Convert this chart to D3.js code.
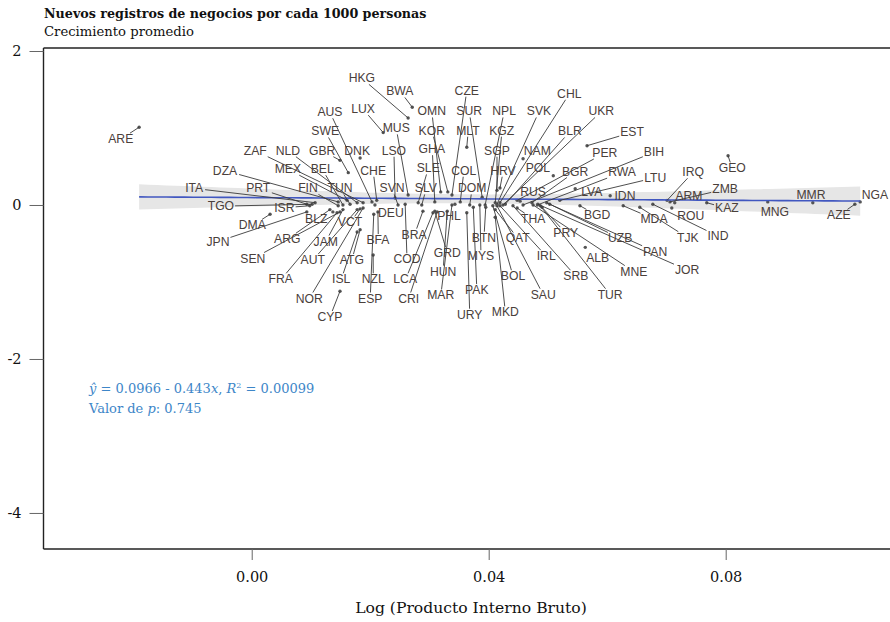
<!DOCTYPE html>
<html><head><meta charset="utf-8">
<script src="https://cdn.jsdelivr.net/npm/d3@7"></script>
<style>body{margin:0;background:#fff}svg{display:block}</style>
</head><body>
<svg id="c" width="890" height="622"></svg>
<script>
const paises = ["ARE","ITA","TGO","PRT","ISR","DZA","ZAF","NLD","MEX","BEL","FIN","TUN","GBR","DNK","SWE","AUS","CHE","HKG","BWA","LUX","MUS","LSO","SVN","OMN","KOR","GHA","SLE","SLV","CZE","SUR","MLT","COL","DOM","NPL","KGZ","SGP","HRV","SVK","CHL","NAM","UKR","BLR","EST","PER","BIH","POL","BGR","RWA","LTU","LVA","RUS","IDN","IRQ","ZMB","ARM","GEO","KAZ","MNG","MMR","AZE","NGA","ROU","IND","TJK","MDA","BGD","UZB","PAN","JOR","MNE","TUR","ALB","SRB","PRY","THA","IRL","SAU","BOL","QAT","MKD","BTN","MYS","PAK","URY","MAR","HUN","GRD","PHL","BRA","COD","LCA","CRI","DEU","BFA","NZL","ESP","ISL","CYP","ATG","AUT","NOR","JAM","FRA","VCT","BLZ","ARG","SEN","JPN","DMA"];
const logPib = [-0.0190,0.0107,0.0102,0.0093,0.0098,0.0146,0.0188,0.0178,0.0161,0.0154,0.0146,0.0166,0.0149,0.0183,0.0163,0.0203,0.0211,0.0264,0.0271,0.0222,0.0264,0.0242,0.0247,0.0319,0.0331,0.0309,0.0281,0.0287,0.0338,0.0389,0.0363,0.0352,0.0368,0.0394,0.0411,0.0414,0.0419,0.0414,0.0419,0.0458,0.0424,0.0428,0.0566,0.0448,0.0458,0.0509,0.0473,0.0482,0.0520,0.0546,0.0453,0.0605,0.0701,0.0706,0.0714,0.0804,0.0768,0.0871,0.0947,0.1018,0.1027,0.0709,0.0677,0.0655,0.0627,0.0554,0.0498,0.0503,0.0483,0.0475,0.0487,0.0563,0.0441,0.0490,0.0448,0.0419,0.0414,0.0407,0.0411,0.0411,0.0395,0.0385,0.0374,0.0363,0.0338,0.0330,0.0309,0.0343,0.0289,0.0259,0.0306,0.0313,0.0208,0.0213,0.0205,0.0206,0.0178,0.0149,0.0183,0.0178,0.0188,0.0154,0.0144,0.0183,0.0137,0.0132,0.0149,0.0093,0.0031];
const crecimiento = [1.01,0.03,0.01,0.01,-0.01,0.04,0.03,0.03,0.06,0.00,-0.01,0.01,0.58,0.61,0.42,0.04,0.06,1.13,1.27,0.94,0.13,0.09,0.00,0.17,0.17,0.04,0.03,0.00,0.13,0.10,0.75,0.04,0.00,0.00,0.03,0.19,0.22,0.01,0.03,0.60,0.00,0.01,0.77,0.06,0.00,0.38,0.03,0.00,0.06,0.21,0.05,0.12,0.06,0.04,0.03,0.64,0.03,0.04,0.03,0.01,0.04,-0.04,0.01,-0.03,-0.01,-0.01,0.03,0.01,0.01,0.00,-0.01,-0.55,-0.01,-0.03,-0.04,-0.01,-0.01,-0.01,-0.06,-0.16,-0.03,0.00,-0.03,-0.10,0.00,-0.08,-0.08,0.01,-0.08,0.01,-0.10,-0.09,0.00,-0.09,-0.65,-0.12,-0.35,-1.12,-0.32,-0.06,-0.04,-0.06,-0.10,-0.05,-0.09,-0.06,-0.09,-0.09,-0.12];
// label anchor positions (data units), as placed by the repel layout in the original
const etiquetaX = [-0.0221,-0.0097,-0.0052,0.0011,0.0055,-0.0045,0.0006,0.0061,0.0061,0.0119,0.0095,0.0149,0.0119,0.0178,0.0124,0.0132,0.0205,0.0186,0.0250,0.0188,0.0244,0.0240,0.0237,0.0304,0.0304,0.0304,0.0298,0.0294,0.0363,0.0367,0.0365,0.0358,0.0372,0.0426,0.0422,0.0414,0.0424,0.0485,0.0536,0.0482,0.0590,0.0537,0.0642,0.0596,0.0679,0.0483,0.0546,0.0625,0.0681,0.0574,0.0475,0.0630,0.0745,0.0799,0.0738,0.0811,0.0802,0.0883,0.0944,0.0991,0.1052,0.0741,0.0787,0.0736,0.0679,0.0583,0.0622,0.0681,0.0735,0.0645,0.0605,0.0584,0.0547,0.0530,0.0475,0.0497,0.0492,0.0441,0.0449,0.0428,0.0392,0.0387,0.0380,0.0368,0.0319,0.0323,0.0330,0.0333,0.0274,0.0262,0.0259,0.0265,0.0235,0.0213,0.0205,0.0200,0.0151,0.0132,0.0169,0.0103,0.0097,0.0125,0.0049,0.0166,0.0109,0.0060,0.0002,-0.0057,0.0001];
const etiquetaY = [0.86,0.22,-0.01,0.22,-0.03,0.45,0.71,0.71,0.47,0.47,0.22,0.22,0.71,0.70,0.96,1.21,0.45,1.65,1.48,1.25,1.00,0.71,0.22,1.22,0.97,0.73,0.48,0.22,1.49,1.22,0.97,0.45,0.22,1.22,0.97,0.71,0.45,1.22,1.45,0.71,1.22,0.96,0.95,0.68,0.69,0.48,0.44,0.43,0.36,0.18,0.18,0.12,0.43,0.21,0.12,0.48,-0.04,-0.09,0.14,-0.13,0.13,-0.14,-0.40,-0.42,-0.18,-0.13,-0.43,-0.60,-0.84,-0.86,-1.16,-0.68,-0.92,-0.36,-0.18,-0.66,-1.16,-0.92,-0.43,-1.39,-0.42,-0.66,-1.10,-1.42,-1.17,-0.86,-0.62,-0.14,-0.38,-0.70,-0.96,-1.21,-0.10,-0.45,-0.96,-1.21,-0.96,-1.45,-0.71,-0.71,-1.21,-0.47,-0.96,-0.22,-0.18,-0.44,-0.69,-0.47,-0.26];
const xTicks = [0.00, 0.04, 0.08];
const yTicks = [2, 0, -2, -4];
const intercepto = 0.0966, pendiente = -0.443;
const titulo = "Nuevos registros de negocios por cada 1000 personas";
const subtitulo = "Crecimiento promedio";
const ejeX = "Log (Producto Interno Bruto)";

const svg = d3.select("#c");
const L = 43.5, R = 890, T = 48, B = 549;
const x = d3.scaleLinear().domain([-0.03514, 0.10773]).range([L, R]);
const y = d3.scaleLinear().domain([-4.468, 2.039]).range([B, T]);
const serif = "'DejaVu Serif', serif";
const sans = "'Liberation Sans', Arial, sans-serif";

svg.append("text").attr("x", 44).attr("y", 18).attr("font-family", serif).attr("font-weight", "bold")
  .attr("font-size", 12.7).attr("fill", "#111").text(titulo);
svg.append("text").attr("x", 44).attr("y", 36).attr("font-family", serif)
  .attr("font-size", 13.2).attr("fill", "#111").text(subtitulo);

// confidence band from data
const n = logPib.length;
const xm = d3.mean(logPib);
const sxx = d3.sum(logPib, v => (v - xm) ** 2);
const res = logPib.map((v, i) => crecimiento[i] - (intercepto + pendiente * v));
const s = Math.sqrt(d3.sum(res, r => r * r) / (n - 2));
const tq = 1.983;
const [xmin, xmax] = d3.extent(logPib);
const grid = d3.range(0, 81).map(k => xmin + (xmax - xmin) * k / 80);
const band = grid.map(v => {
  const f = intercepto + pendiente * v;
  const se = s * Math.sqrt(1 / n + (v - xm) ** 2 / sxx);
  return {v, lo: f - tq * se, hi: f + tq * se, f};
});
svg.append("path").datum(band).attr("fill", "#e6e6e6")
  .attr("d", d3.area().x(d => x(d.v)).y0(d => y(d.lo)).y1(d => y(d.hi)));

// points
const g = svg.append("g");
g.selectAll("circle").data(paises).join("circle")
  .attr("cx", (d, i) => x(logPib[i])).attr("cy", (d, i) => y(crecimiento[i]))
  .attr("r", 1.7).attr("fill", "#555");

svg.append("path").datum(band).attr("fill", "none").attr("stroke", "#4157c0").attr("stroke-width", 1.6)
  .attr("d", d3.line().x(d => x(d.v)).y(d => y(d.f)));

// labels + segments
const segG = svg.append("g");
const labG = svg.append("g");
paises.forEach((p, i) => {
  const lx = x(etiquetaX[i]), ly = y(etiquetaY[i]);
  const t = labG.append("text").attr("x", lx).attr("y", ly).attr("dy", "0.36em")
    .attr("text-anchor", "middle").attr("font-family", sans).attr("font-size", 12.2)
    .attr("fill", "#4a403b").text(p);
  const bb = t.node().getBBox();
  const x0 = bb.x - 1, x1 = bb.x + bb.width + 1, y0 = bb.y + 1, y1 = bb.y + bb.height - 1;
  const px = x(logPib[i]), py = y(crecimiento[i]);
  if (px >= x0 && px <= x1 && py >= y0 && py <= y1) return;
  const cx = (x0 + x1) / 2, cy = (y0 + y1) / 2;
  const dx = px - cx, dy = py - cy;
  let tt = 1;
  if (dx !== 0) tt = Math.min(tt, Math.abs(((dx > 0 ? x1 : x0) - cx) / dx));
  if (dy !== 0) tt = Math.min(tt, Math.abs(((dy > 0 ? y1 : y0) - cy) / dy));
  const ex = cx + dx * tt, ey = cy + dy * tt;
  const len = Math.hypot(px - ex, py - ey);
  if (len < 7) return;
  segG.append("line").attr("x1", ex).attr("y1", ey).attr("x2", px).attr("y2", py)
    .attr("stroke", "#3a3a3a").attr("stroke-width", 0.9);
});

// axes
const ax = svg.append("g").attr("stroke", "#222").attr("stroke-width", 1.4).attr("fill", "none");
ax.append("line").attr("x1", L).attr("x2", L).attr("y1", T).attr("y2", B);
ax.append("line").attr("x1", L).attr("x2", R).attr("y1", T).attr("y2", T);
ax.append("line").attr("x1", L).attr("x2", R).attr("y1", B).attr("y2", B);

const yAx = svg.append("g").attr("transform", `translate(${L},0)`)
  .call(d3.axisLeft(y).tickValues(yTicks).tickSize(14).tickPadding(8).tickFormat(d => String(d)));
yAx.select(".domain").remove();
yAx.selectAll(".tick line").attr("stroke", "#666");
yAx.selectAll(".tick text").attr("font-family", serif).attr("font-size", 14.5).attr("fill", "#111");

const xAx = svg.append("g").attr("transform", `translate(0,${B})`)
  .call(d3.axisBottom(x).tickValues(xTicks).tickSize(11).tickPadding(12).tickFormat(d3.format(".2f")));
xAx.select(".domain").remove();
xAx.selectAll(".tick line").attr("stroke", "#666");
xAx.selectAll(".tick text").attr("font-family", serif).attr("font-size", 14.5).attr("fill", "#111");

svg.append("text").attr("x", 471).attr("y", 613).attr("text-anchor", "middle")
  .attr("font-family", serif).attr("font-size", 15.6).attr("fill", "#111").text(ejeX);

// equation annotation
const eq = svg.append("text").attr("x", 89).attr("y", 393).attr("font-family", serif)
  .attr("font-size", 13).attr("fill", "#3d86c8");
eq.append("tspan").attr("font-style", "italic").text("ŷ");
eq.append("tspan").text(` = ${intercepto} - ${Math.abs(pendiente)}`);
eq.append("tspan").attr("font-style", "italic").text("x");
eq.append("tspan").text(", ");
eq.append("tspan").attr("font-style", "italic").text("R");
eq.append("tspan").attr("font-size", 8).attr("dy", -5).text("2");
eq.append("tspan").attr("dy", 5).text(" = 0.00099");
const pv = svg.append("text").attr("x", 89).attr("y", 413).attr("font-family", serif)
  .attr("font-size", 13).attr("fill", "#3d86c8");
pv.append("tspan").text("Valor de ");
pv.append("tspan").attr("font-style", "italic").text("p");
pv.append("tspan").text(": 0.745");
</script>
</body></html>
